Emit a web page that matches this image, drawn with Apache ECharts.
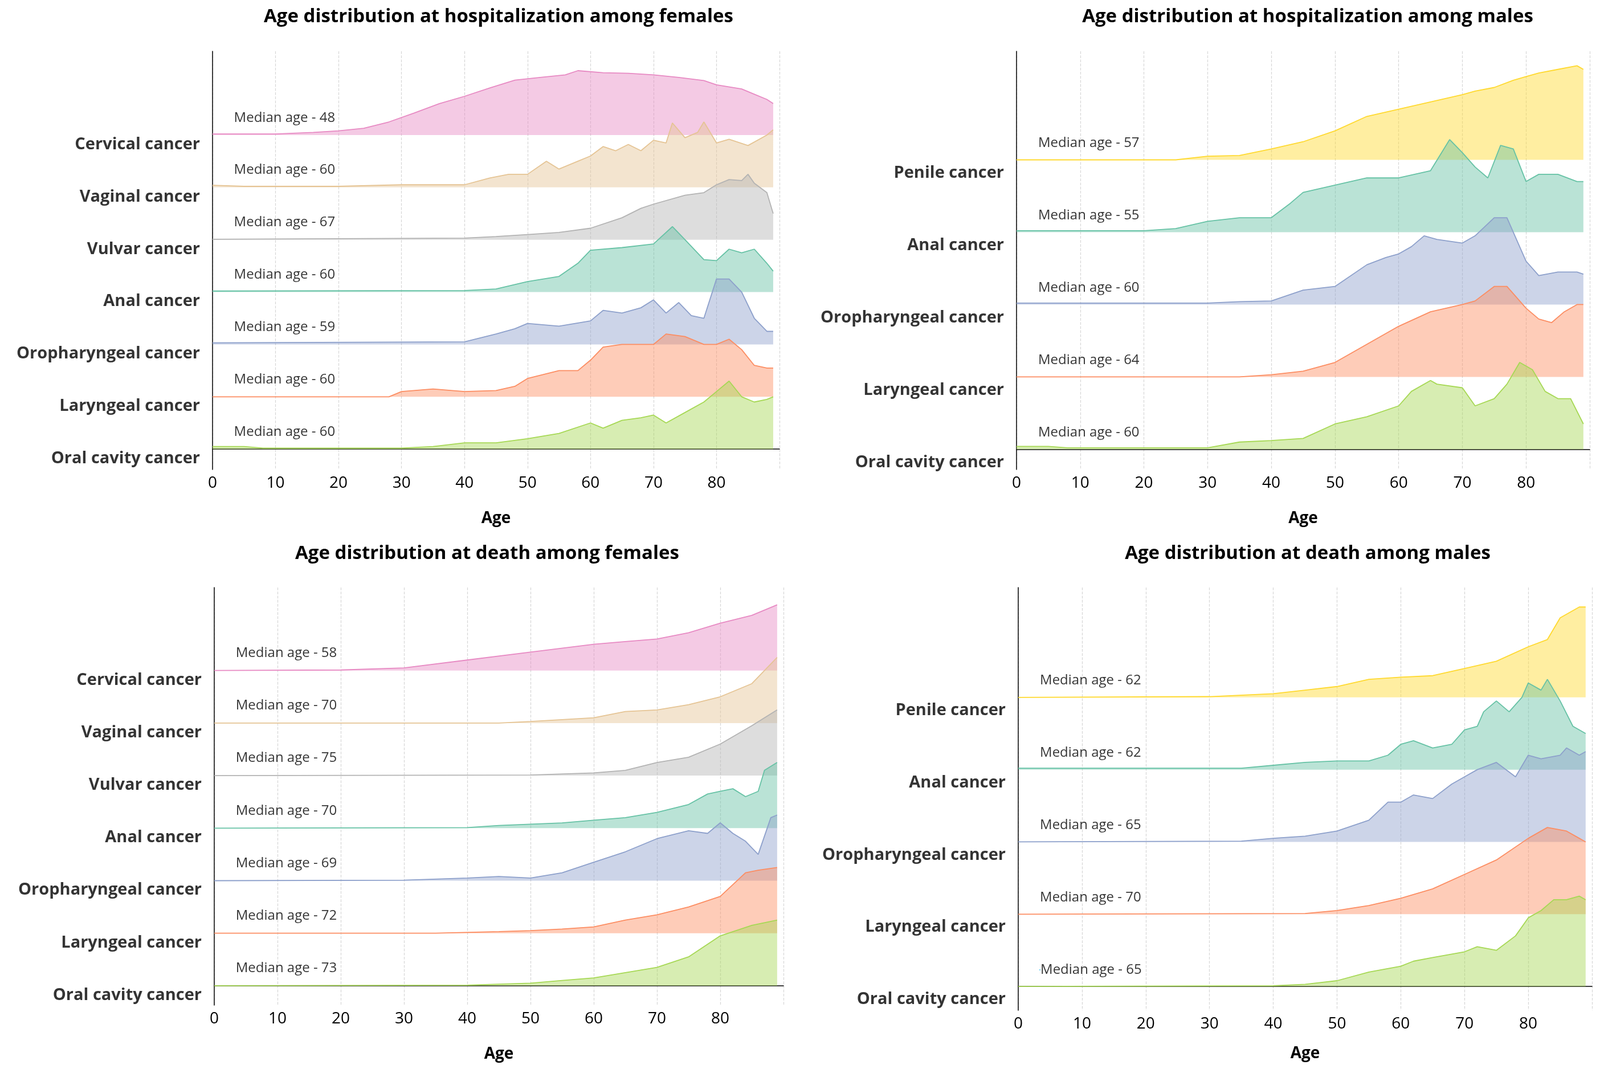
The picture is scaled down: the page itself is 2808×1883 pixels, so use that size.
<!DOCTYPE html>
<html><head><meta charset="utf-8">
<script src="https://cdn.jsdelivr.net/npm/echarts@6/dist/echarts.min.js"></script>
<style>html,body{margin:0;background:#fff}#c{width:2808px;height:1883px}</style>
</head><body><div id="c"></div>
<script>
// ---- data: [age, relative density in ridge-spacing units] ----
const femaleCats = ['Cervical cancer','Vaginal cancer','Vulvar cancer','Anal cancer','Oropharyngeal cancer','Laryngeal cancer','Oral cavity cancer'];
const maleCats = ['Penile cancer','Anal cancer','Oropharyngeal cancer','Laryngeal cancer','Oral cavity cancer'];
const femHospMedian = [48,60,67,60,59,60,60];
const maleHospMedian = [57,55,60,64,60];
const femDeathMedian = [58,70,75,70,69,72,73];
const maleDeathMedian = [62,62,65,70,65];
const xTicks = [0,10,20,30,40,50,60,70,80];

const fhCervical=[[0,.02],[10,.02],[16,.05],[20,.08],[24,.13],[28,.25],[32,.42],[36,.6],[40,.74],[44,.9],[48,1.05],[52,1.1],[56,1.15],[58,1.23],[62,1.19],[66,1.18],[70,1.15],[74,1.1],[78,1.04],[80,.96],[84,.88],[86,.78],[88,.68],[89,.6]];
const fhVaginal=[[0,.04],[5,.02],[20,.02],[30,.05],[40,.05],[44,.18],[47,.25],[50,.25],[53,.5],[55,.35],[58,.5],[60,.6],[62,.78],[64,.7],[66,.82],[68,.7],[70,.9],[72,.85],[73,1.23],[75,.95],[77,1.05],[78,1.25],[80,.85],[82,.92],[85,.8],[88,1.0],[89,1.1]];
const fhVulvar=[[0,.01],[40,.03],[45,.06],[50,.1],[55,.14],[60,.22],[65,.42],[68,.6],[70,.68],[75,.85],[78,.9],[80,1.05],[82,1.15],[84,1.13],[85,1.25],[86,1.08],[88,.9],[89,.5]];
const fhAnal=[[0,.02],[40,.03],[45,.06],[50,.2],[55,.3],[58,.55],[60,.8],[65,.85],[70,.92],[73,1.25],[75,1.0],[78,.62],[80,.6],[82,.82],[84,.75],[86,.82],[88,.55],[89,.4]];
const fhOroph=[[0,.03],[40,.05],[45,.2],[48,.3],[50,.4],[55,.35],[60,.45],[62,.65],[65,.6],[68,.7],[70,.85],[72,.6],[74,.8],[76,.55],[78,.5],[80,1.25],[82,1.25],[84,1.0],[86,.5],[88,.25],[89,.25]];
const fhLaryng=[[0,0],[28,0],[30,.1],[35,.15],[40,.1],[45,.12],[48,.2],[50,.35],[55,.5],[58,.5],[60,.7],[62,.95],[65,1.0],[70,1.0],[72,1.2],[75,1.15],[78,1.0],[80,1.0],[82,1.1],[84,.9],[86,.6],[88,.55],[89,.55]];
const fhOral=[[0,.05],[5,.05],[8,.02],[30,.02],[35,.05],[40,.12],[45,.12],[50,.2],[55,.3],[60,.5],[62,.4],[65,.55],[68,.6],[70,.65],[72,.5],[75,.7],[78,.9],[80,1.1],[82,1.3],[84,1.0],[86,.9],[88,.95],[89,1.0]];

const mhPenile=[[0,0],[25,0],[30,.05],[35,.06],[40,.15],[45,.25],[50,.4],[55,.6],[60,.7],[65,.8],[70,.9],[72,.95],[75,1.0],[78,1.1],[80,1.15],[82,1.2],[85,1.25],[88,1.3],[89,1.25]];
const mhAnal=[[0,.02],[20,.02],[25,.05],[30,.15],[35,.2],[40,.2],[43,.4],[45,.55],[50,.65],[55,.75],[60,.75],[65,.85],[68,1.28],[70,1.1],[72,.9],[74,.75],[76,1.2],[78,1.15],[80,.7],[82,.8],[85,.8],[88,.7],[89,.7]];
const mhOroph=[[0,.02],[30,.02],[35,.04],[40,.05],[45,.2],[50,.25],[55,.55],[58,.65],[60,.7],[62,.8],[64,.95],[66,.9],[70,.85],[72,.95],[75,1.2],[77,1.2],[80,.6],[82,.4],[85,.45],[88,.45],[89,.42]];
const mhLaryng=[[0,0],[35,0],[40,.03],[45,.08],[50,.2],[55,.45],[60,.7],[65,.9],[70,1.0],[72,1.05],[75,1.25],[77,1.25],[80,.95],[82,.8],[84,.75],[86,.9],[88,1.0],[89,1.0]];
const mhOral=[[0,.04],[5,.04],[8,.02],[30,.02],[35,.1],[40,.12],[45,.15],[50,.35],[55,.45],[60,.6],[62,.8],[65,.95],[66,.9],[70,.85],[72,.6],[75,.7],[77,.9],[79,1.2],[81,1.1],[83,.8],[85,.7],[87,.7],[89,.35]];

const fdCervical=[[0,0],[20,.01],[30,.05],[40,.2],[50,.35],[60,.5],[65,.55],[70,.6],[75,.72],[80,.9],[85,1.05],[89,1.25]];
const fdVaginal=[[0,0],[45,0],[50,.03],[60,.1],[65,.22],[70,.25],[75,.35],[80,.5],[85,.75],[89,1.25]];
const fdVulvar=[[0,0],[50,.01],[60,.05],[65,.1],[70,.25],[75,.35],[80,.6],[85,.95],[89,1.25]];
const fdAnal=[[0,0],[40,.01],[45,.05],[55,.1],[60,.15],[65,.2],[70,.3],[75,.45],[78,.65],[80,.7],[82,.75],[84,.6],[86,.7],[87,1.1],[89,1.25]];
const fdOroph=[[0,0],[30,.01],[40,.05],[45,.08],[50,.05],[55,.15],[60,.35],[65,.55],[70,.8],[75,.95],[78,.9],[80,1.1],[82,.9],[84,.75],[86,.5],[88,1.2],[89,1.25]];
const fdLaryng=[[0,0],[35,0],[45,.03],[50,.05],[55,.08],[60,.12],[65,.25],[70,.35],[75,.5],[80,.7],[84,1.15],[86,1.2],[89,1.25]];
const fdOral=[[0,0],[40,.01],[50,.05],[55,.1],[60,.15],[65,.25],[70,.35],[75,.55],[80,.95],[85,1.15],[89,1.25]];

const mdPenile=[[0,0],[30,.01],[40,.05],[45,.1],[50,.15],[55,.25],[60,.28],[65,.3],[70,.4],[75,.5],[80,.7],[83,.8],[85,1.1],[88,1.25],[89,1.25]];
const mdAnal=[[0,.02],[35,.02],[40,.06],[45,.1],[50,.12],[55,.12],[58,.2],[60,.35],[62,.4],[65,.3],[68,.35],[70,.55],[72,.6],[73,.8],[75,.95],[77,.8],[79,1.0],[80,1.2],[82,1.1],[83,1.25],[85,.95],[87,.6],[89,.5]];
const mdOroph=[[0,0],[35,.01],[40,.05],[45,.08],[50,.15],[55,.3],[58,.55],[60,.55],[62,.65],[65,.6],[68,.8],[70,.9],[72,1.0],[75,1.1],[78,.9],[80,1.2],[82,1.15],[85,1.2],[86,1.3],[88,1.2],[89,1.25]];
const mdLaryng=[[0,0],[45,.01],[50,.05],[55,.12],[60,.22],[65,.35],[70,.55],[75,.75],[80,1.05],[83,1.2],[86,1.15],[88,1.05],[89,1.0]];
const mdOral=[[0,0],[40,.01],[45,.03],[50,.08],[55,.2],[60,.28],[62,.35],[65,.4],[70,.48],[72,.55],[75,.5],[78,.7],[80,.95],[82,1.05],[84,1.2],[86,1.2],[88,1.25],[89,1.2]];

const femColors=['#e78ac3','#e5c494','#b3b3b3','#66c2a5','#8da0cb','#fc8d62','#a6d854'];
const maleColors=['#ffd92f','#66c2a5','#8da0cb','#fc8d62','#a6d854'];

const panels=[
 {title:'Age distribution at hospitalization among females',cats:femaleCats,med:femHospMedian,data:[fhCervical,fhVaginal,fhVulvar,fhAnal,fhOroph,fhLaryng,fhOral],colors:femColors,
  grid:{left:373,right:1440,top:90,bottom:1059},ymin:-0.39,ymax:7.6,tx:870},
 {title:'Age distribution at hospitalization among males',cats:maleCats,med:maleHospMedian,data:[mhPenile,mhAnal,mhOroph,mhLaryng,mhOral],colors:maleColors,
  grid:{left:1784,right:18,top:90,bottom:1059},ymin:-0.28,ymax:5.5,tx:2290},
 {title:'Age distribution at death among females',cats:femaleCats,med:femDeathMedian,data:[fdCervical,fdVaginal,fdVulvar,fdAnal,fdOroph,fdLaryng,fdOral],colors:femColors,
  grid:{left:376,right:1433,top:1031,bottom:119},ymin:-0.37,ymax:7.58,tx:850},
 {title:'Age distribution at death among males',cats:maleCats,med:maleDeathMedian,data:[mdPenile,mdAnal,mdOroph,mdLaryng,mdOral],colors:maleColors,
  grid:{left:1787,right:14,top:1031,bottom:110},ymin:-0.33,ymax:5.52,tx:2290}
];

const option={animation:false,backgroundColor:'#fff',title:[],grid:[],xAxis:[],yAxis:[],series:[]};
const F='Open Sans, Noto Sans, sans-serif';
panels.forEach((p,i)=>{
  option.title.push({text:p.title,left:p.tx,top:i<2?8:950,textAlign:'center',textStyle:{fontFamily:F,fontSize:33,fontWeight:'bold',color:'#000'}});
  option.grid.push(p.grid);
  option.xAxis.push({gridIndex:i,type:'value',min:0,max:90,interval:10,name:'Age',nameLocation:'middle',nameGap:i===3?62:72,
    nameTextStyle:{fontFamily:F,fontSize:28,fontWeight:'bold',color:'#000'},
    axisLine:{lineStyle:{color:'#000',width:1.5}},axisTick:{show:false},
    axisLabel:{fontFamily:F,fontSize:28,color:'#000',margin:10,formatter:v=>xTicks.includes(v)?String(v):''},
    splitLine:{show:true,lineStyle:{type:'dashed',color:'#d6d6d6',width:1.2}}});
  option.yAxis.push({gridIndex:i,type:'value',min:p.ymin,max:p.ymax,axisLine:{show:true,lineStyle:{color:'#000',width:1.5}},
    axisTick:{show:false},axisLabel:{show:false},splitLine:{show:false}});
  const n=p.cats.length;
  p.data.forEach((d,k)=>{
    const base=n-1-k;
    option.series.push({type:'line',xAxisIndex:i,yAxisIndex:i,symbol:'none',smooth:false,z:2+k,
      data:d.map(q=>[q[0],base+q[1]]),lineStyle:{color:p.colors[k],width:1.8},
      areaStyle:{color:p.colors[k],opacity:0.45,origin:base}});
  });
  option.series.push({type:'scatter',xAxisIndex:i,yAxisIndex:i,symbolSize:0,z:30,
    data:p.cats.map((c,k)=>({name:c,value:[0,n-1-k-0.18]})),
    label:{show:true,position:'left',distance:22,formatter:'{b}',fontFamily:F,fontSize:29,fontWeight:'bold',color:'#000'}});
  option.series.push({type:'scatter',xAxisIndex:i,yAxisIndex:i,symbolSize:0,z:30,
    data:p.med.map((m,k)=>({name:'Median age - '+m,value:[3.4,n-1-k+(n===7?0.33:0.23)]})),
    label:{show:true,position:'right',distance:0,formatter:'{b}',fontFamily:F,fontSize:24,color:'#000'}});
});
echarts.init(document.getElementById('c')).setOption(option);
</script></body></html>
